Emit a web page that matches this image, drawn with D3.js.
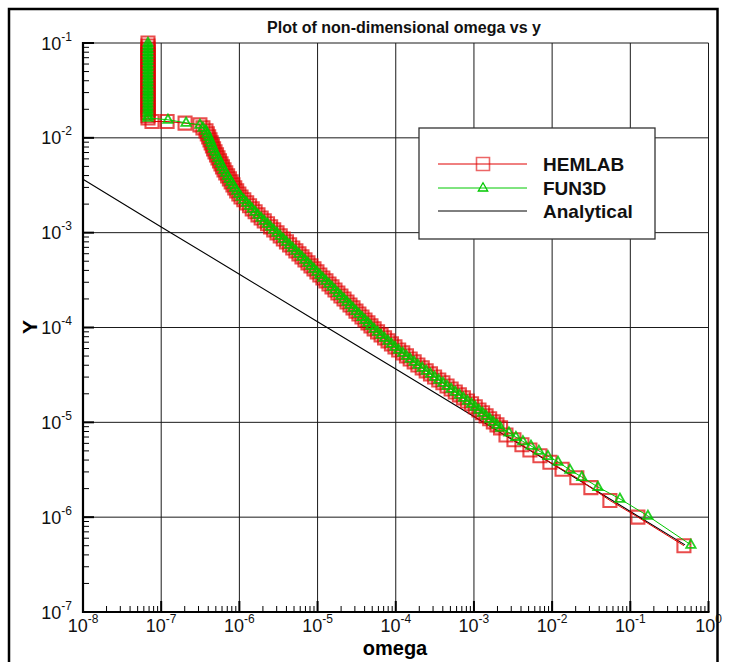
<!DOCTYPE html>
<html><head><meta charset="utf-8">
<script src="https://cdn.jsdelivr.net/npm/d3@7"></script>
<style>
body{margin:0;background:#fff}
svg{display:block}
text{font-family:"Liberation Sans",Arial,Helvetica,sans-serif}
</style>
</head><body>
<svg id="chart" width="734" height="662"></svg>
<script>
// ---------------- data ----------------
const xTickValues = [1e-8, 1e-7, 1e-6, 1e-5, 1e-4, 1e-3, 1e-2, 1e-1, 1];
const xTickExp = ["-8", "-7", "-6", "-5", "-4", "-3", "-2", "-1", "0"];
const yTickValues = [1e-7, 1e-6, 1e-5, 1e-4, 1e-3, 1e-2, 1e-1];
const yTickExp = ["-7", "-6", "-5", "-4", "-3", "-2", "-1"];

const seriesNames = ["HEMLAB", "FUN3D", "Analytical"];

// free-stream column (constant omega), both codes
const columnOmega = 6.78e-8;
const columnY = [0.100, 0.0929, 0.0863, 0.0802, 0.0745, 0.0692, 0.0643, 0.0597, 0.0555, 0.0515,
  0.0479, 0.0445, 0.0413, 0.0384, 0.0356, 0.0331, 0.0308, 0.0286, 0.0265, 0.0247,
  0.0229, 0.0213, 0.0198, 0.0184, 0.0171, 0.0162];

// sparse step at the boundary-layer edge
const hemStepOmega = [7.63e-8, 1.19e-7, 2.02e-7];
const hemStepY = [0.01486, 0.01486, 0.01428];
const funStepOmega = [1.22e-7, 2.08e-7];
const funStepY = [0.0155, 0.0144];

// dense band (both codes overlap)
const bandOmega = [3.13e-7, 3.42e-7, 3.74e-7, 3.89e-7, 4.05e-7, 4.21e-7, 4.36e-7, 4.52e-7, 4.68e-7, 4.88e-7,
  5.10e-7, 5.33e-7, 5.57e-7, 5.82e-7, 6.08e-7, 6.36e-7, 6.70e-7, 7.07e-7, 7.45e-7, 7.86e-7,
  8.28e-7, 8.73e-7, 9.24e-7, 9.85e-7, 1.05e-6, 1.14e-6, 1.24e-6, 1.35e-6, 1.46e-6, 1.59e-6,
  1.73e-6, 1.90e-6, 2.08e-6, 2.29e-6, 2.51e-6, 2.75e-6, 3.03e-6, 3.33e-6, 3.65e-6, 4.00e-6,
  4.39e-6, 4.82e-6, 5.28e-6, 5.78e-6, 6.32e-6, 6.90e-6, 7.54e-6, 8.24e-6, 9.00e-6, 9.82e-6,
  1.07e-5, 1.17e-5, 1.28e-5, 1.40e-5, 1.53e-5, 1.67e-5, 1.82e-5, 1.99e-5, 2.18e-5, 2.38e-5,
  2.60e-5, 2.84e-5, 3.10e-5, 3.38e-5, 3.70e-5, 4.04e-5, 4.41e-5, 4.82e-5, 5.29e-5, 5.85e-5,
  6.49e-5, 7.19e-5, 7.97e-5, 8.81e-5, 9.77e-5, 1.09e-4, 1.23e-4, 1.37e-4, 1.53e-4, 1.72e-4,
  1.92e-4, 2.18e-4, 2.45e-4, 2.78e-4, 3.14e-4, 3.55e-4, 4.01e-4, 4.53e-4, 5.11e-4, 5.77e-4,
  6.51e-4, 7.34e-4, 8.26e-4, 9.32e-4, 1.04e-3, 1.16e-3, 1.29e-3, 1.43e-3, 1.59e-3, 1.77e-3,
  1.97e-3, 2.19e-3];
const bandY = [1.371e-2, 1.275e-2, 1.185e-2, 1.102e-2, 1.024e-2, 9.52e-3, 8.85e-3, 8.23e-3, 7.65e-3, 7.11e-3,
  6.61e-3, 6.15e-3, 5.72e-3, 5.31e-3, 4.94e-3, 4.59e-3, 4.27e-3, 3.97e-3, 3.69e-3, 3.43e-3,
  3.19e-3, 2.97e-3, 2.76e-3, 2.56e-3, 2.38e-3, 2.22e-3, 2.06e-3, 1.92e-3, 1.78e-3, 1.66e-3,
  1.54e-3, 1.43e-3, 1.33e-3, 1.24e-3, 1.15e-3, 1.07e-3, 9.94e-4, 9.24e-4, 8.59e-4, 7.99e-4,
  7.43e-4, 6.90e-4, 6.42e-4, 5.97e-4, 5.55e-4, 5.16e-4, 4.80e-4, 4.46e-4, 4.15e-4, 3.86e-4,
  3.58e-4, 3.33e-4, 3.10e-4, 2.88e-4, 2.68e-4, 2.49e-4, 2.31e-4, 2.15e-4, 2.00e-4, 1.86e-4,
  1.73e-4, 1.61e-4, 1.49e-4, 1.39e-4, 1.29e-4, 1.20e-4, 1.12e-4, 1.04e-4, 9.67e-5, 8.99e-5,
  8.36e-5, 7.77e-5, 7.22e-5, 6.72e-5, 6.24e-5, 5.80e-5, 5.40e-5, 5.02e-5, 4.66e-5, 4.34e-5,
  4.03e-5, 3.75e-5, 3.49e-5, 3.24e-5, 3.01e-5, 2.80e-5, 2.61e-5, 2.42e-5, 2.25e-5, 2.09e-5,
  1.95e-5, 1.81e-5, 1.68e-5, 1.57e-5, 1.46e-5, 1.35e-5, 1.26e-5, 1.17e-5, 1.09e-5, 1.01e-5,
  9.41e-6, 8.75e-6];

// near-wall points
const hemWallOmega = [2.57e-3, 3.25e-3, 4.11e-3, 5.20e-3, 6.98e-3, 9.37e-3, 1.34e-2, 2.07e-2, 3.13e-2, 5.48e-2, 0.125, 0.485];
const hemWallY = [7.35e-6, 6.55e-6, 5.80e-6, 5.10e-6, 4.45e-6, 3.80e-6, 3.20e-6, 2.60e-6, 2.05e-6, 1.50e-6, 1.00e-6, 5.0e-7];
const funWallOmega = [2.80e-3, 3.44e-3, 4.23e-3, 5.36e-3, 6.78e-3, 8.84e-3, 1.19e-2, 1.69e-2, 2.40e-2, 3.85e-2, 7.36e-2, 0.168, 0.596];
const funWallY = [7.8e-6, 7.0e-6, 6.3e-6, 5.65e-6, 5.0e-6, 4.4e-6, 3.82e-6, 3.15e-6, 2.65e-6, 2.08e-6, 1.56e-6, 1.03e-6, 5.1e-7];

// analytical solution
const anaOmega = [1e-8, 1e-7, 1e-6, 1e-5, 1e-4, 1e-3, 1e-2, 1e-1, 0.5];
const anaY = [3.65e-3, 1.15e-3, 3.65e-4, 1.15e-4, 3.65e-5, 1.15e-5, 3.65e-6, 1.15e-6, 5.1e-7];

// ---------------- assemble ----------------
const zip = (xs, ys) => xs.map((x, i) => [x, ys[i]]);
const columnPts = columnY.map(y => [columnOmega, y]);
const hemlab = [...columnPts, ...zip(hemStepOmega, hemStepY), ...zip(bandOmega, bandY), ...zip(hemWallOmega, hemWallY)];
const fun3d = [...columnPts, ...zip(funStepOmega, funStepY), ...zip(bandOmega, bandY), ...zip(funWallOmega, funWallY)];
const analytical = zip(anaOmega, anaY);

// ---------------- drawing ----------------
const svg = d3.select("#chart");
const L = 83, R = 708.5, T = 43, B = 612;
const x = d3.scaleLog().domain([1e-8, 1]).range([L, R]);
const y = d3.scaleLog().domain([1e-7, 1e-1]).range([B, T]);

// outer frame
svg.append("rect").attr("x", 9).attr("y", 9).attr("width", 708.5).attr("height", 700)
  .attr("fill", "none").attr("stroke", "#000").attr("stroke-width", 2.5);

// title
svg.append("text").attr("x", 404).attr("y", 33).attr("text-anchor", "middle")
  .attr("font-size", 16).attr("font-weight", "bold").attr("fill", "#111")
  .text("Plot of non-dimensional omega vs y");

// grid
const g = svg.append("g");
g.selectAll(".gx").data(xTickValues).join("line")
  .attr("x1", d => x(d)).attr("x2", d => x(d)).attr("y1", T).attr("y2", B)
  .attr("stroke", "#1a1a1a").attr("stroke-width", 1);
g.selectAll(".gy").data(yTickValues).join("line")
  .attr("x1", L).attr("x2", R).attr("y1", d => y(d)).attr("y2", d => y(d))
  .attr("stroke", "#1a1a1a").attr("stroke-width", 1);

// minor ticks
const minorX = [], minorY = [];
for (let e = -8; e < 0; e++) for (let m = 2; m <= 9; m++) minorX.push(m * Math.pow(10, e));
for (let e = -7; e < -1; e++) for (let m = 2; m <= 9; m++) minorY.push(m * Math.pow(10, e));
g.selectAll(".mx").data(minorX).join("line")
  .attr("x1", d => x(d)).attr("x2", d => x(d)).attr("y1", B).attr("y2", B - 6)
  .attr("stroke", "#000").attr("stroke-width", 1);
g.selectAll(".my").data(minorY).join("line")
  .attr("x1", L).attr("x2", L + 6).attr("y1", d => y(d)).attr("y2", d => y(d))
  .attr("stroke", "#000").attr("stroke-width", 1);
// major ticks
g.selectAll(".Mx").data(xTickValues).join("line")
  .attr("x1", d => x(d)).attr("x2", d => x(d)).attr("y1", B).attr("y2", B - 11)
  .attr("stroke", "#000").attr("stroke-width", 2);
g.selectAll(".My").data(yTickValues).join("line")
  .attr("x1", L).attr("x2", L + 11).attr("y1", d => y(d)).attr("y2", d => y(d))
  .attr("stroke", "#000").attr("stroke-width", 2);

// axes lines
svg.append("line").attr("x1", L).attr("x2", L).attr("y1", T - 1).attr("y2", B + 1)
  .attr("stroke", "#000").attr("stroke-width", 2.2);
svg.append("line").attr("x1", L - 1).attr("x2", R + 1).attr("y1", B).attr("y2", B)
  .attr("stroke", "#000").attr("stroke-width", 2.2);

// tick labels
const xl = svg.append("g").selectAll("text").data(xTickValues).join("text")
  .attr("x", d => x(d)).attr("y", 632).attr("text-anchor", "middle")
  .attr("font-size", 18).attr("fill", "#111");
xl.append("tspan").text("10");
xl.append("tspan").attr("dy", -9).attr("font-size", 12).text((d, i) => xTickExp[i]);

const yl = svg.append("g").selectAll("text").data(yTickValues).join("text")
  .attr("x", 72).attr("y", d => y(d) + 6.5).attr("text-anchor", "end")
  .attr("font-size", 18).attr("fill", "#111");
yl.append("tspan").text("10");
yl.append("tspan").attr("dy", -9).attr("font-size", 12).text((d, i) => yTickExp[i]);

// axis titles
svg.append("text").attr("x", 395).attr("y", 655).attr("text-anchor", "middle")
  .attr("font-size", 20).attr("font-weight", "bold").attr("fill", "#000").text("omega");
svg.append("text").attr("transform", "translate(37,327) rotate(-90)").attr("text-anchor", "middle")
  .attr("font-size", 21).attr("font-weight", "bold").attr("fill", "#000").text("Y");

// series
const line = d3.line().x(d => x(d[0])).y(d => y(d[1]));
const plot = svg.append("g");
plot.append("path").datum(analytical).attr("d", line)
  .attr("fill", "none").attr("stroke", "#000").attr("stroke-width", 1.1);

const redC = "#e00000", greenC = "#00c800";
const sq = d3.symbol().type(d3.symbolSquare).size(13 * 13);
const triPath = "M0,-5.3L4.7,3L-4.7,3Z";

plot.append("path").datum(hemlab).attr("d", line)
  .attr("fill", "none").attr("stroke", redC).attr("stroke-width", 1);
plot.append("g").selectAll("path").data(hemlab).join("path")
  .attr("d", sq()).attr("transform", d => `translate(${x(d[0])},${y(d[1])})`)
  .attr("fill", "none").attr("stroke", redC).attr("stroke-opacity", 0.7).attr("stroke-width", 2.1);

plot.append("path").datum(fun3d).attr("d", line)
  .attr("fill", "none").attr("stroke", greenC).attr("stroke-width", 1);
plot.append("g").selectAll("path").data(fun3d).join("path")
  .attr("d", triPath).attr("transform", d => `translate(${x(d[0])},${y(d[1])})`)
  .attr("fill", "none").attr("stroke", greenC).attr("stroke-opacity", 0.85).attr("stroke-width", 1.8);

// legend
const lg = svg.append("g");
lg.append("rect").attr("x", 419).attr("y", 128).attr("width", 236).attr("height", 111)
  .attr("fill", "#fff").attr("stroke", "#333").attr("stroke-width", 1.3);
const rows = [164, 188, 211];
const lColors = [redC, greenC, "#000"];
rows.forEach((ry, i) => {
  lg.append("line").attr("x1", 438).attr("x2", 527).attr("y1", ry).attr("y2", ry)
    .attr("stroke", lColors[i]).attr("stroke-width", 1);
  if (i === 0) lg.append("path").attr("d", sq()).attr("transform", `translate(483,${ry})`)
    .attr("fill", "none").attr("stroke", redC).attr("stroke-opacity", 0.6).attr("stroke-width", 1.6);
  if (i === 1) lg.append("path").attr("d", triPath).attr("transform", `translate(483,${ry})`)
    .attr("fill", "none").attr("stroke", greenC).attr("stroke-width", 1.3);
  lg.append("text").attr("x", 543).attr("y", ry + 7).attr("font-size", 19).attr("font-weight", "bold")
    .attr("fill", "#111").text(seriesNames[i]);
});
</script>
</body></html>
